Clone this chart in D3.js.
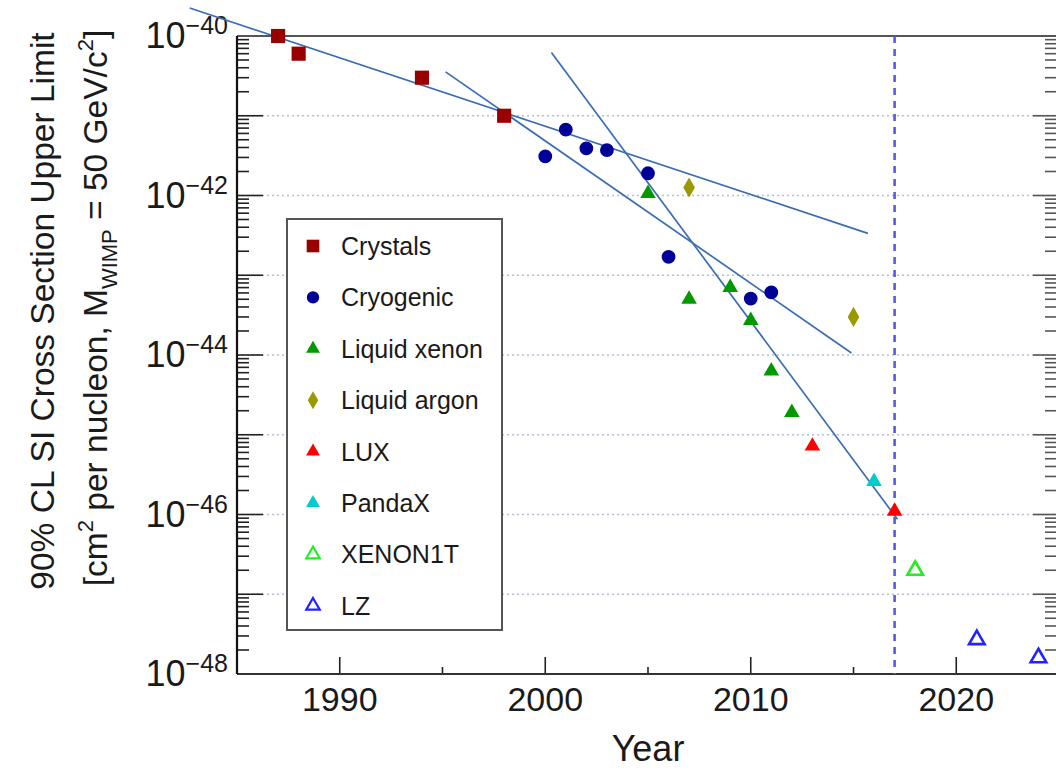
<!DOCTYPE html>
<html>
<head>
<meta charset="utf-8">
<script src="https://cdn.jsdelivr.net/npm/d3@7"></script>
<style>
  body { margin: 0; background: #fff; }
  text { font-family: "Liberation Sans", Arial, Helvetica, sans-serif; fill: #1a1a1a; }
</style>
</head>
<body>
<div id="chart"></div>
<script>
// data
const crystals = [[1987, 1.0e-40], [1988, 6.0e-41], [1994, 3.0e-41], [1998, 1.0e-41]];
const cryogenic = [[2000, 3.1e-42], [2001, 6.7e-42], [2002, 3.9e-42], [2003, 3.7e-42],
                   [2005, 1.9e-42], [2006, 1.7e-43], [2010, 5.1e-44], [2011, 6.1e-44]];
const liquidXenon = [[2005, 1.06e-42], [2007, 5.0e-44], [2009, 7.0e-44], [2010, 2.7e-44],
                     [2011, 6.3e-45], [2012, 1.9e-45]];
const liquidArgon = [[2007, 1.26e-42], [2015, 3.0e-44]];
const lux = [[2013, 7.2e-46], [2017, 1.1e-46]];
const pandax = [[2016, 2.6e-46]];
const xenon1t = [[2018, 2.0e-47]];
const lz = [[2021, 2.7e-48], [2024, 1.6e-48]];

const fitLines = [
    [[1982.7, 2.24e-40], [2015.7, 3.35e-43]],
    [[1995.15, 3.55e-41], [2014.9, 1.06e-44]],
    [[2000.3, 6.2e-41], [2017.14, 8.7e-47]]
];
const markerYear = 2017;

const xTicks = [1990, 2000, 2010, 2020];
const xMinorTicks = [1995, 2005, 2015];
const yDecades = [-40, -42, -44, -46, -48];

const series = [
    { name: "Crystals",     data: crystals,    shape: "square",  color: "#990000", open: false },
    { name: "Cryogenic",    data: cryogenic,   shape: "circle",  color: "#000099", open: false },
    { name: "Liquid xenon", data: liquidXenon, shape: "tri",     color: "#009900", open: false },
    { name: "Liquid argon", data: liquidArgon, shape: "diamond", color: "#999900", open: false },
    { name: "LUX",          data: lux,         shape: "tri",     color: "#ff0000", open: false },
    { name: "PandaX",       data: pandax,      shape: "tri",     color: "#00cccc", open: false },
    { name: "XENON1T",      data: xenon1t,     shape: "tri",     color: "#22ee22", open: true },
    { name: "LZ",           data: lz,          shape: "tri",     color: "#2222ff", open: true }
];

const width = 1056, height = 772;
const pLeft = 237, pRight = 1059, pTop = 36, pBottom = 674;

const svg = d3.select("#chart").append("svg")
    .attr("width", width)
    .attr("height", height);

const x = d3.scaleLinear().domain([1985, 2025]).range([pLeft, pRight]);
const y = d3.scaleLog().domain([1e-48, 1e-40]).range([pBottom, pTop]);

// dotted grid lines at each decade
const decades = d3.range(-47, -40).map(k => Math.pow(10, k));
svg.append("g")
    .selectAll("line")
    .data(decades)
    .join("line")
    .attr("x1", pLeft).attr("x2", pRight)
    .attr("y1", d => y(d)).attr("y2", d => y(d))
    .attr("stroke", "#b4c0d2")
    .attr("stroke-width", 1.6)
    .attr("stroke-dasharray", "2,3");

// log ticks left & right
const yTickVals = [];
for (let k = -48; k < -40; k++) {
    for (let m = 1; m < 10; m++) yTickVals.push({ v: m * Math.pow(10, k), major: m === 1 });
}
yTickVals.push({ v: 1e-40, major: true });

const tickG = svg.append("g").attr("stroke", "#222").attr("stroke-width", 1.6);
tickG.selectAll("line.l")
    .data(yTickVals)
    .join("line")
    .attr("class", "l")
    .attr("x1", pLeft).attr("x2", d => pLeft + (d.major ? 26 : 12))
    .attr("y1", d => y(d.v)).attr("y2", d => y(d.v));
tickG.selectAll("line.r")
    .data(yTickVals)
    .join("line")
    .attr("class", "r")
    .attr("stroke", "#555")
    .attr("x1", pRight).attr("x2", d => pRight - (d.major ? 26 : 14))
    .attr("y1", d => y(d.v)).attr("y2", d => y(d.v));

// x ticks (upward from bottom)
tickG.selectAll("line.xm")
    .data(xTicks)
    .join("line")
    .attr("class", "xm")
    .attr("x1", d => x(d)).attr("x2", d => x(d))
    .attr("y1", pBottom).attr("y2", pBottom - 17);
tickG.selectAll("line.xn")
    .data(xMinorTicks)
    .join("line")
    .attr("class", "xn")
    .attr("x1", d => x(d)).attr("x2", d => x(d))
    .attr("y1", pBottom).attr("y2", pBottom - 7);

// frame
svg.append("line").attr("x1", pLeft).attr("x2", pRight).attr("y1", pTop).attr("y2", pTop)
    .attr("stroke", "#555").attr("stroke-width", 2.2);
svg.append("line").attr("x1", pLeft).attr("x2", pRight).attr("y1", pBottom).attr("y2", pBottom)
    .attr("stroke", "#333").attr("stroke-width", 2.2);
svg.append("line").attr("x1", pLeft).attr("x2", pLeft).attr("y1", pTop).attr("y2", pBottom)
    .attr("stroke", "#111").attr("stroke-width", 2.2);

// x labels
svg.append("g")
    .selectAll("text")
    .data(xTicks)
    .join("text")
    .attr("x", d => x(d))
    .attr("y", pBottom + 37)
    .attr("text-anchor", "middle")
    .style("font-size", "34px")
    .text(d => d);

// y labels 10^k
const yl = svg.append("g")
    .selectAll("text")
    .data(yDecades)
    .join("text")
    .attr("x", 228)
    .attr("y", d => y(Math.pow(10, d)) + 12)
    .attr("text-anchor", "end");
yl.append("tspan").style("font-size", "36px").text("10");
yl.append("tspan").style("font-size", "25px").attr("dy", -14).text(d => "\u2212" + (-d));

// axis titles
svg.append("text")
    .attr("x", 648).attr("y", 761)
    .attr("text-anchor", "middle")
    .style("font-size", "36px")
    .text("Year");

const yTitle = svg.append("g").attr("transform", "translate(42,311) rotate(-90)");
yTitle.append("text")
    .attr("x", 0).attr("y", 12)
    .attr("text-anchor", "middle")
    .style("font-size", "33.5px")
    .text("90% CL SI Cross Section Upper Limit");
const t2 = yTitle.append("text")
    .attr("x", 3).attr("y", 65)
    .attr("text-anchor", "middle")
    .style("font-size", "33.5px");
t2.append("tspan").text("[cm");
t2.append("tspan").style("font-size", "22px").attr("dy", -14).text("2");
t2.append("tspan").attr("dy", 14).text(" per nucleon, M");
t2.append("tspan").style("font-size", "22px").attr("dy", 10).text("WIMP");
t2.append("tspan").attr("dy", -10).text(" = 50 GeV/c");
t2.append("tspan").style("font-size", "22px").attr("dy", -14).text("2");
t2.append("tspan").attr("dy", 14).text("]");

// fit lines
svg.append("g")
    .selectAll("line")
    .data(fitLines)
    .join("line")
    .attr("x1", d => x(d[0][0])).attr("y1", d => y(d[0][1]))
    .attr("x2", d => x(d[1][0])).attr("y2", d => y(d[1][1]))
    .attr("stroke", "#3a6db3")
    .attr("stroke-width", 1.7);

// vertical dashed line
svg.append("line")
    .attr("x1", x(markerYear)).attr("x2", x(markerYear))
    .attr("y1", pTop).attr("y2", pBottom)
    .attr("stroke", "#5a5ae0")
    .attr("stroke-width", 2.6)
    .attr("stroke-dasharray", "7,6");

// symbol helper
function symbolPath(shape, scale) {
    const sizes = { square: 200, circle: 150, tri: 105, diamond: 118 };
    const types = { square: d3.symbolSquare, circle: d3.symbolCircle, tri: d3.symbolTriangle, diamond: d3.symbolDiamond };
    return d3.symbol().type(types[shape]).size(sizes[shape] * scale)();
}

// points
series.forEach(s => {
    svg.append("g")
        .selectAll("path")
        .data(s.data)
        .join("path")
        .attr("transform", d => `translate(${x(d[0])},${y(d[1])})`)
        .attr("d", symbolPath(s.shape, 1))
        .attr("fill", s.open ? "none" : s.color)
        .attr("stroke", s.open ? s.color : "none")
        .attr("stroke-width", 2.6);
});

// legend
const legend = svg.append("g");
legend.append("rect")
    .attr("x", 287).attr("y", 219)
    .attr("width", 215).attr("height", 411)
    .attr("fill", "#fff")
    .attr("stroke", "#555")
    .attr("stroke-width", 2);

const row = legend.selectAll("g.row")
    .data(series)
    .join("g")
    .attr("class", "row")
    .attr("transform", (d, i) => `translate(313, ${246 + i * 51.4})`);
row.append("path")
    .attr("d", d => symbolPath(d.shape, d.open ? 0.75 : 0.8))
    .attr("fill", d => d.open ? "none" : d.color)
    .attr("stroke", d => d.open ? d.color : "none")
    .attr("stroke-width", 2.2);
row.append("text")
    .attr("x", 28)
    .attr("y", 9)
    .style("font-size", "25px")
    .text(d => d.name);
</script>
</body>
</html>
